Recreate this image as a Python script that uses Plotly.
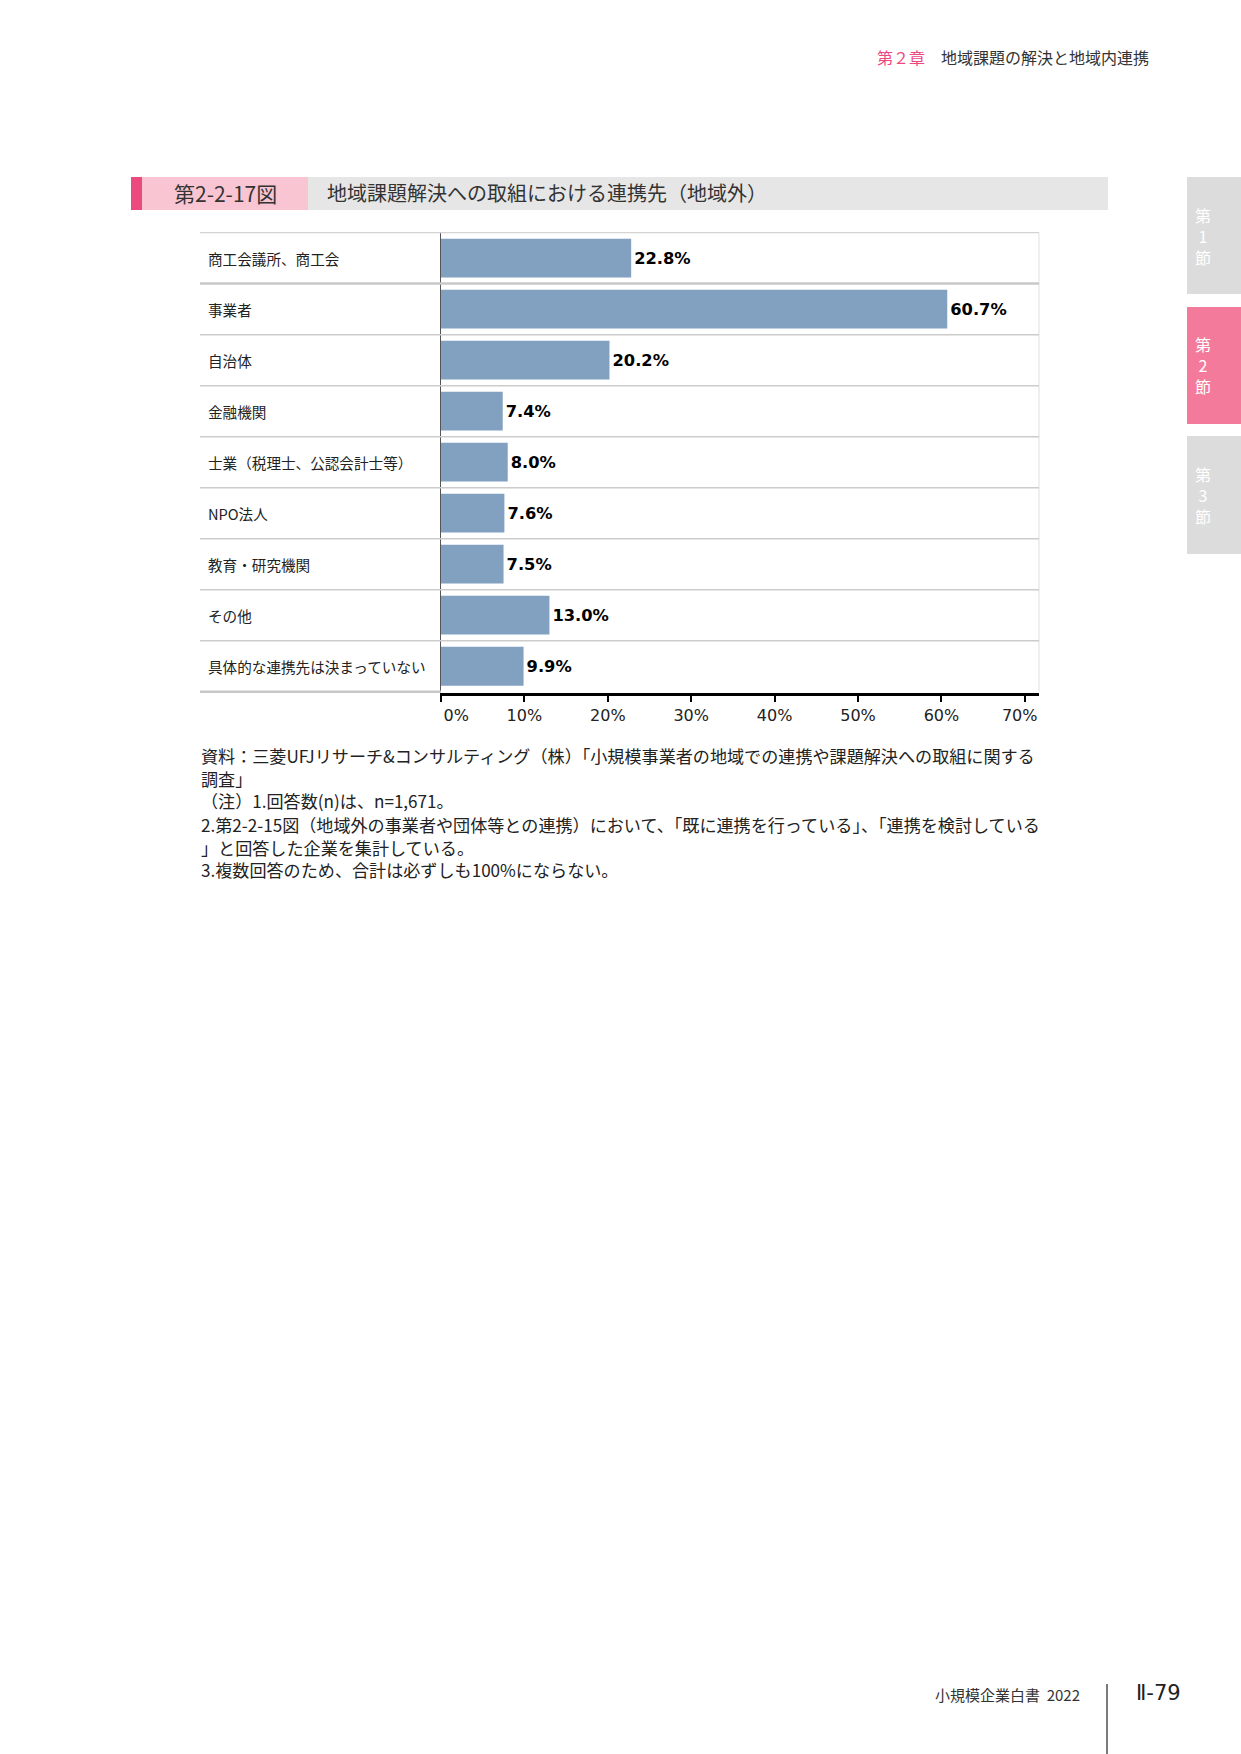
import plotly.graph_objects as go

W, H = 1241, 1754

categories = [
    "商工会議所、商工会",
    "事業者",
    "自治体",
    "金融機関",
    "士業（税理士、公認会計士等）",
    "NPO法人",
    "教育・研究機関",
    "その他",
    "具体的な連携先は決まっていない",
]
values = [22.8, 60.7, 20.2, 7.4, 8.0, 7.6, 7.5, 13.0, 9.9]
tick_vals = [0, 10, 20, 30, 40, 50, 60, 70]
tick_text = ["\u2007\u2007\u20070%", "10%", "20%", "30%", "40%", "50%", "60%", "70%\u2007"]

fig_no = "第2-2-17図"
title = "地域課題解決への取組における連携先（地域外）"
notes = [
    "資料：三菱UFJリサーチ&コンサルティング（株）「小規模事業者の地域での連携や課題解決への取組に関する",
    "調査」",
    "（注）1.回答数(n)は、n=1,671。",
    "2.第2-2-15図（地域外の事業者や団体等との連携）において、「既に連携を行っている」、「連携を検討している",
    "」と回答した企業を集計している。",
    "3.複数回答のため、合計は必ずしも100%にならない。",
]

JP = "Noto Sans CJK JP"


def X(px):
    return px / W


def Y(py):
    return 1 - py / H


# plot area in pixels
PL, PR, PT, PB = 441, 1039, 232, 693
LABEL_LEFT = 200

fig = go.Figure()
fig.add_trace(go.Bar(
    x=values, y=categories, orientation="h",
    marker=dict(color="#82A1C1", line=dict(width=0)),
    texttemplate="%{x:.1f}%", textposition="outside",
    textfont=dict(family="DejaVu Sans", size=16.3, color="#000", weight="bold"),
    cliponaxis=False, hoverinfo="skip",
))

shapes = []
n = len(categories)
for k in range(n):
    yb = k - 0.5
    if k == 0:
        lw, lc = 1.2, "#D4D4D4"
    elif k == 1:
        lw, lc = 2.5, "#C8C8C8"
    else:
        lw, lc = 1.5, "#CCCCCC"
    shapes.append(dict(type="line", xref="paper", yref="y", x0=X(LABEL_LEFT), x1=X(PR),
                       y0=yb, y1=yb, line=dict(color=lc, width=lw), layer="above"))
shapes.append(dict(type="line", xref="paper", yref="y", x0=X(LABEL_LEFT), x1=X(PL),
                   y0=n - 0.5, y1=n - 0.5, line=dict(color="#C8C8C8", width=2.5), layer="above"))
shapes.append(dict(type="line", xref="paper", yref="y", x0=X(PR), x1=X(PR),
                   y0=-0.5, y1=n - 0.5, line=dict(color="#E0E0E0", width=1), layer="below"))

# header bar
shapes += [
    dict(type="rect", xref="paper", yref="paper", x0=X(131), x1=X(1108), y0=Y(210), y1=Y(177),
         fillcolor="#E6E6E6", line=dict(width=0)),
    dict(type="rect", xref="paper", yref="paper", x0=X(131), x1=X(308), y0=Y(210), y1=Y(177),
         fillcolor="#FAC5D2", line=dict(width=0)),
    dict(type="rect", xref="paper", yref="paper", x0=X(131), x1=X(142), y0=Y(210), y1=Y(177),
         fillcolor="#EC4A7F", line=dict(width=0)),
]
tabs = [(177, 294, "#DCDCDC", "1"), (307, 424, "#F47A9B", "2"), (436, 554, "#DCDCDC", "3")]
for t0, t1, col, _ in tabs:
    shapes.append(dict(type="rect", xref="paper", yref="paper", x0=X(1187), x1=X(1241),
                       y0=Y(t1), y1=Y(t0), fillcolor=col, line=dict(width=0)))
shapes.append(dict(type="line", xref="paper", yref="paper", x0=X(1107), x1=X(1107),
                   y0=Y(1754), y1=Y(1684), line=dict(color="#222", width=1.2)))

annotations = []
for c in categories:
    annotations.append(dict(x=X(206), xref="paper", y=c, yref="y", text=c, showarrow=False,
                            xanchor="left", yanchor="middle",
                            font=dict(family=JP, size=14.6, color="#222")))
annotations.append(dict(x=X(225), y=Y(193), xref="paper", yref="paper", text=fig_no, showarrow=False,
                        xanchor="center", yanchor="middle", font=dict(family=JP, size=21, color="#333")))
annotations.append(dict(x=X(325), y=Y(193), xref="paper", yref="paper", text=title, showarrow=False,
                        xanchor="left", yanchor="middle", font=dict(family=JP, size=20, color="#333")))
annotations.append(dict(x=X(1151), y=Y(57), xref="paper", yref="paper",
                        text="<span style='color:#EC4A7F'>第２章</span>　地域課題の解決と地域内連携",
                        showarrow=False, xanchor="right", yanchor="middle",
                        font=dict(family=JP, size=16, color="#333")))
for t0, t1, col, num in tabs:
    annotations.append(dict(x=X(1203), y=Y((t0 + t1) / 2), xref="paper", yref="paper",
                            text=f"第<br>{num}<br>節", showarrow=False, xanchor="center", yanchor="middle",
                            align="center", font=dict(family=JP, size=16, color="#FFFFFF")))
note_y = [755, 778, 801, 824, 847, 870]
for txt, yy in zip(notes, note_y):
    annotations.append(dict(x=X(199), y=Y(yy), xref="paper", yref="paper", text=txt, showarrow=False,
                            xanchor="left", yanchor="middle", font=dict(family=JP, size=17.1, color="#222")))
annotations.append(dict(x=X(1082), y=Y(1694), xref="paper", yref="paper", text="小規模企業白書\u00a0\u00a02022",
                        showarrow=False, xanchor="right", yanchor="middle",
                        font=dict(family=JP, size=15, color="#333")))
annotations.append(dict(x=X(1134), y=Y(1693), xref="paper", yref="paper", text="Ⅱ-79",
                        showarrow=False, xanchor="left", yanchor="middle",
                        font=dict(family="DejaVu Sans", size=21, color="#222")))

fig.update_layout(
    width=W, height=H, margin=dict(l=0, r=0, t=0, b=0, autoexpand=False),
    paper_bgcolor="white", plot_bgcolor="white",
    showlegend=False, bargap=0.24,
    shapes=shapes, annotations=annotations,
    xaxis=dict(domain=[X(PL), X(PR)], range=[0, 71.7], tickvals=tick_vals, ticktext=tick_text,
               automargin=False,
               showgrid=False, zeroline=False, showline=True, linecolor="#000", linewidth=2.5,
               ticks="outside", ticklen=6, tickcolor="#000", tickwidth=1.5,
               tickfont=dict(family="DejaVu Sans", size=16, color="#222"), fixedrange=True),
    yaxis=dict(domain=[Y(PB), Y(PT)], categoryorder="array", categoryarray=categories,
               automargin=False,
               autorange="reversed", showticklabels=False, showgrid=False, zeroline=False,
               showline=True, linecolor="#555", linewidth=1, ticks="", fixedrange=True),
)

fig.write_html("out.html",
               post_script="document.body.style.margin='0';document.body.style.overflow='hidden';")
